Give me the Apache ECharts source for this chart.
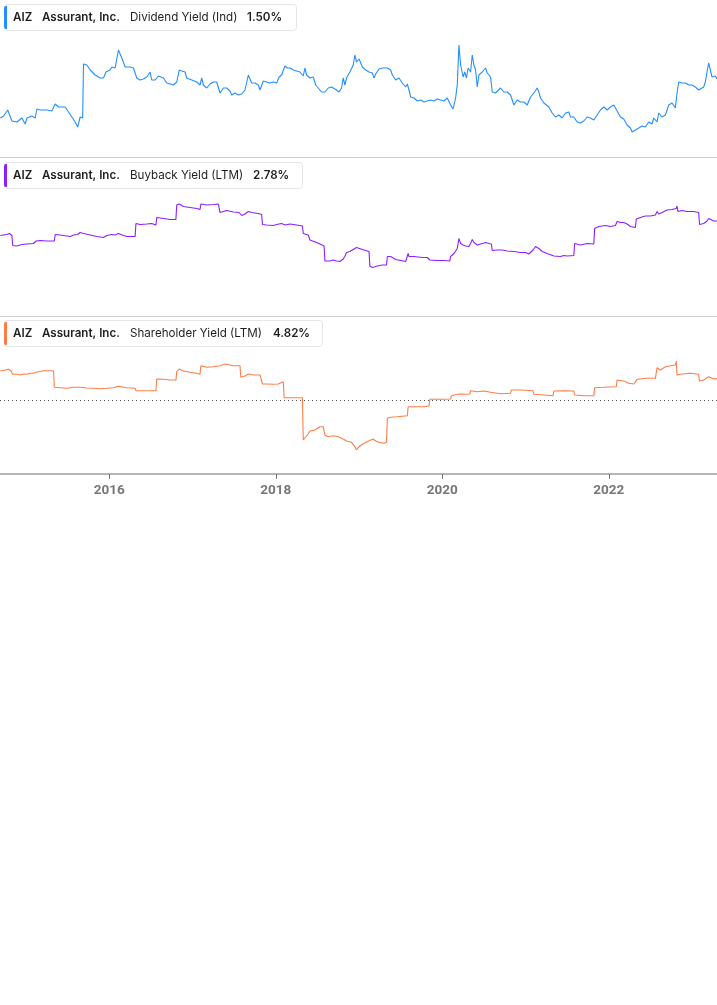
<!DOCTYPE html>
<html>
<head>
<meta charset="utf-8">
<script src="https://cdn.jsdelivr.net/npm/echarts@6/dist/echarts.min.js"></script>
<style>
html,body{margin:0;padding:0;background:#fff;}
#chart{width:717px;height:1005px;}
</style>
</head>
<body>
<div id="chart"></div>
<script>
// decimal year, value (%)
const dividendYield = [[2014.69,1.11],[2014.73,1.13],[2014.78,1.19],[2014.83,1.08],[2014.89,1.07],[2014.95,1.11],[2014.99,1.05],[2015.01,1.11],[2015.07,1.13],[2015.11,1.11],[2015.13,1.20],[2015.17,1.19],[2015.25,1.19],[2015.31,1.18],[2015.35,1.25],[2015.39,1.22],[2015.47,1.22],[2015.51,1.17],[2015.55,1.12],[2015.59,1.07],[2015.62,1.02],[2015.65,1.12],[2015.68,1.11],[2015.69,1.65],[2015.73,1.64],[2015.77,1.59],[2015.83,1.54],[2015.89,1.51],[2015.93,1.51],[2015.96,1.57],[2016.01,1.59],[2016.03,1.62],[2016.07,1.61],[2016.09,1.59],[2016.11,1.79],[2016.15,1.71],[2016.19,1.62],[2016.25,1.62],[2016.29,1.61],[2016.33,1.51],[2016.37,1.49],[2016.41,1.50],[2016.45,1.52],[2016.49,1.57],[2016.51,1.49],[2016.55,1.49],[2016.59,1.53],[2016.65,1.51],[2016.69,1.46],[2016.73,1.45],[2016.77,1.44],[2016.81,1.47],[2016.84,1.59],[2016.87,1.58],[2016.91,1.57],[2016.93,1.51],[2016.99,1.49],[2017.05,1.47],[2017.09,1.44],[2017.11,1.51],[2017.13,1.44],[2017.17,1.41],[2017.21,1.45],[2017.25,1.47],[2017.29,1.47],[2017.31,1.45],[2017.33,1.36],[2017.37,1.41],[2017.41,1.41],[2017.45,1.38],[2017.47,1.34],[2017.51,1.36],[2017.55,1.34],[2017.59,1.35],[2017.63,1.39],[2017.67,1.54],[2017.71,1.46],[2017.75,1.46],[2017.79,1.44],[2017.81,1.39],[2017.85,1.48],[2017.89,1.47],[2017.93,1.46],[2017.97,1.47],[2018.01,1.46],[2018.04,1.52],[2018.07,1.54],[2018.11,1.63],[2018.14,1.61],[2018.17,1.61],[2018.21,1.59],[2018.25,1.58],[2018.29,1.57],[2018.33,1.53],[2018.35,1.61],[2018.37,1.54],[2018.41,1.51],[2018.45,1.52],[2018.48,1.44],[2018.51,1.41],[2018.55,1.37],[2018.59,1.37],[2018.63,1.41],[2018.67,1.42],[2018.69,1.44],[2018.73,1.39],[2018.76,1.37],[2018.79,1.41],[2018.81,1.51],[2018.83,1.44],[2018.85,1.51],[2018.89,1.57],[2018.93,1.64],[2018.95,1.74],[2018.97,1.67],[2019.00,1.70],[2019.04,1.62],[2019.08,1.59],[2019.12,1.57],[2019.16,1.56],[2019.18,1.51],[2019.20,1.55],[2019.24,1.60],[2019.28,1.61],[2019.30,1.62],[2019.34,1.61],[2019.38,1.59],[2019.40,1.54],[2019.44,1.49],[2019.48,1.51],[2019.52,1.46],[2019.56,1.42],[2019.58,1.45],[2019.60,1.39],[2019.62,1.32],[2019.66,1.31],[2019.70,1.28],[2019.74,1.29],[2019.78,1.27],[2019.82,1.28],[2019.86,1.29],[2019.90,1.28],[2019.94,1.30],[2019.98,1.29],[2020.02,1.28],[2020.06,1.31],[2020.08,1.29],[2020.10,1.24],[2020.13,1.20],[2020.16,1.31],[2020.18,1.44],[2020.20,1.84],[2020.22,1.64],[2020.25,1.52],[2020.27,1.57],[2020.29,1.51],[2020.31,1.61],[2020.34,1.57],[2020.36,1.74],[2020.38,1.64],[2020.40,1.59],[2020.42,1.42],[2020.44,1.54],[2020.48,1.57],[2020.52,1.61],[2020.54,1.56],[2020.58,1.52],[2020.60,1.37],[2020.64,1.36],[2020.70,1.41],[2020.74,1.37],[2020.78,1.37],[2020.82,1.34],[2020.86,1.24],[2020.90,1.29],[2020.94,1.27],[2020.98,1.27],[2021.02,1.24],[2021.06,1.32],[2021.10,1.36],[2021.14,1.41],[2021.16,1.37],[2021.18,1.31],[2021.22,1.26],[2021.28,1.22],[2021.32,1.16],[2021.36,1.12],[2021.40,1.14],[2021.44,1.11],[2021.48,1.16],[2021.52,1.17],[2021.54,1.12],[2021.58,1.12],[2021.62,1.07],[2021.66,1.06],[2021.70,1.08],[2021.74,1.12],[2021.78,1.11],[2021.82,1.09],[2021.86,1.14],[2021.90,1.19],[2021.94,1.22],[2021.98,1.19],[2022.02,1.22],[2022.06,1.24],[2022.10,1.18],[2022.14,1.12],[2022.18,1.10],[2022.22,1.04],[2022.26,1.01],[2022.28,0.97],[2022.30,0.95],[2022.32,0.99],[2022.36,1.01],[2022.40,1.03],[2022.44,1.02],[2022.48,1.07],[2022.52,1.05],[2022.54,1.11],[2022.58,1.07],[2022.60,1.16],[2022.64,1.12],[2022.68,1.14],[2022.72,1.24],[2022.76,1.26],[2022.80,1.21],[2022.82,1.36],[2022.84,1.47],[2022.88,1.46],[2022.92,1.46],[2022.96,1.44],[2023.00,1.44],[2023.04,1.42],[2023.08,1.39],[2023.10,1.37],[2023.14,1.42],[2023.16,1.47],[2023.18,1.57],[2023.20,1.66],[2023.22,1.59],[2023.24,1.52],[2023.28,1.53],[2023.30,1.50]];

const buybackYield = [[2014.69,2.49],[2014.77,2.51],[2014.80,2.53],[2014.83,2.49],[2014.84,2.29],[2014.89,2.28],[2014.95,2.31],[2014.97,2.28],[2015.01,2.32],[2015.09,2.33],[2015.11,2.32],[2015.12,2.38],[2015.17,2.39],[2015.25,2.38],[2015.34,2.38],[2015.35,2.51],[2015.41,2.50],[2015.49,2.48],[2015.53,2.47],[2015.55,2.43],[2015.57,2.50],[2015.59,2.53],[2015.62,2.51],[2015.65,2.55],[2015.69,2.53],[2015.77,2.50],[2015.85,2.47],[2015.93,2.45],[2015.97,2.49],[2016.03,2.51],[2016.07,2.50],[2016.11,2.53],[2016.13,2.55],[2016.17,2.49],[2016.21,2.47],[2016.27,2.47],[2016.31,2.47],[2016.32,2.73],[2016.37,2.71],[2016.45,2.72],[2016.51,2.73],[2016.56,2.70],[2016.57,2.85],[2016.65,2.83],[2016.73,2.81],[2016.80,2.81],[2016.81,3.10],[2016.84,3.12],[2016.89,3.07],[2016.97,3.05],[2017.05,3.03],[2017.09,3.01],[2017.10,3.12],[2017.17,3.10],[2017.25,3.11],[2017.31,3.12],[2017.33,2.95],[2017.41,2.99],[2017.49,2.96],[2017.56,2.95],[2017.59,2.89],[2017.63,2.92],[2017.67,2.97],[2017.71,2.95],[2017.79,2.93],[2017.83,2.91],[2017.84,2.71],[2017.89,2.70],[2017.97,2.69],[2018.01,2.71],[2018.07,2.73],[2018.09,2.77],[2018.11,2.70],[2018.17,2.72],[2018.25,2.70],[2018.32,2.68],[2018.33,2.53],[2018.39,2.50],[2018.41,2.40],[2018.43,2.37],[2018.49,2.35],[2018.53,2.32],[2018.58,2.28],[2018.59,1.98],[2018.65,1.98],[2018.69,2.00],[2018.73,1.98],[2018.77,1.97],[2018.81,2.02],[2018.83,2.07],[2018.85,2.15],[2018.89,2.17],[2018.93,2.21],[2018.97,2.25],[2019.04,2.21],[2019.12,2.17],[2019.13,1.88],[2019.16,1.85],[2019.22,1.88],[2019.28,1.90],[2019.33,1.90],[2019.34,2.07],[2019.38,2.07],[2019.44,2.01],[2019.50,1.99],[2019.56,1.97],[2019.58,1.99],[2019.59,2.13],[2019.60,2.07],[2019.66,2.07],[2019.76,2.05],[2019.82,2.05],[2019.85,2.00],[2019.94,1.99],[2020.02,1.99],[2020.09,1.98],[2020.10,2.07],[2020.14,2.13],[2020.18,2.23],[2020.20,2.43],[2020.22,2.33],[2020.25,2.30],[2020.28,2.28],[2020.30,2.30],[2020.32,2.27],[2020.34,2.33],[2020.36,2.41],[2020.38,2.35],[2020.42,2.30],[2020.44,2.27],[2020.48,2.33],[2020.52,2.35],[2020.56,2.33],[2020.59,2.32],[2020.60,2.19],[2020.66,2.20],[2020.72,2.20],[2020.78,2.18],[2020.86,2.17],[2020.94,2.15],[2021.00,2.15],[2021.04,2.12],[2021.06,2.15],[2021.09,2.20],[2021.12,2.27],[2021.16,2.23],[2021.20,2.17],[2021.26,2.13],[2021.34,2.08],[2021.42,2.07],[2021.46,2.09],[2021.50,2.08],[2021.58,2.09],[2021.59,2.33],[2021.66,2.30],[2021.74,2.33],[2021.82,2.32],[2021.83,2.63],[2021.88,2.67],[2021.96,2.69],[2022.02,2.67],[2022.08,2.69],[2022.10,2.77],[2022.14,2.75],[2022.18,2.75],[2022.22,2.72],[2022.26,2.67],[2022.32,2.65],[2022.33,2.82],[2022.38,2.85],[2022.44,2.88],[2022.50,2.88],[2022.56,2.90],[2022.58,2.97],[2022.60,2.92],[2022.64,2.95],[2022.70,3.00],[2022.76,3.01],[2022.81,3.03],[2022.82,3.08],[2022.83,2.97],[2022.88,2.99],[2022.94,2.97],[2023.02,2.97],[2023.08,2.95],[2023.09,2.71],[2023.14,2.73],[2023.18,2.78],[2023.20,2.83],[2023.22,2.79],[2023.26,2.78],[2023.30,2.78]];

const shareholderYield = [[2014.69,6.38],[2014.75,6.60],[2014.79,6.75],[2014.82,6.38],[2014.84,5.65],[2014.89,5.65],[2014.93,5.50],[2014.97,5.72],[2015.01,5.65],[2015.05,5.87],[2015.09,5.87],[2015.12,6.09],[2015.14,6.45],[2015.21,6.45],[2015.29,6.45],[2015.33,6.38],[2015.34,2.79],[2015.41,2.71],[2015.49,2.57],[2015.57,2.79],[2015.65,2.79],[2015.73,2.64],[2015.81,2.57],[2015.89,2.49],[2015.97,2.57],[2016.05,2.71],[2016.11,3.01],[2016.13,2.79],[2016.21,2.71],[2016.31,2.57],[2016.32,2.05],[2016.41,2.05],[2016.49,2.05],[2016.56,2.05],[2016.57,4.62],[2016.65,4.55],[2016.73,4.40],[2016.80,4.40],[2016.81,6.23],[2016.84,6.82],[2016.89,6.38],[2016.97,6.09],[2017.05,5.87],[2017.09,5.65],[2017.10,7.55],[2017.17,7.19],[2017.25,7.33],[2017.33,7.55],[2017.39,7.92],[2017.45,7.70],[2017.49,7.55],[2017.57,7.55],[2017.58,4.99],[2017.63,5.28],[2017.67,5.72],[2017.73,5.50],[2017.81,5.50],[2017.83,5.35],[2017.84,3.52],[2017.89,3.52],[2017.97,3.45],[2018.03,3.52],[2018.09,4.03],[2018.10,0.51],[2018.17,0.51],[2018.25,0.51],[2018.32,0.51],[2018.33,-8.80],[2018.35,-8.65],[2018.38,-7.70],[2018.41,-6.82],[2018.47,-6.60],[2018.53,-5.87],[2018.57,-5.87],[2018.59,-7.70],[2018.63,-8.07],[2018.69,-7.85],[2018.75,-8.07],[2018.77,-7.85],[2018.81,-8.58],[2018.85,-9.02],[2018.91,-9.31],[2018.95,-10.27],[2018.97,-11.00],[2019.00,-10.27],[2019.04,-9.75],[2019.10,-9.17],[2019.14,-8.80],[2019.17,-8.58],[2019.20,-9.02],[2019.24,-9.31],[2019.30,-9.53],[2019.33,-9.31],[2019.34,-4.03],[2019.38,-3.81],[2019.46,-3.67],[2019.58,-3.45],[2019.59,-1.47],[2019.66,-1.47],[2019.78,-1.47],[2019.84,-1.32],[2019.85,0.15],[2019.94,0.15],[2020.02,0.15],[2020.10,0.22],[2020.11,0.88],[2020.18,1.25],[2020.22,1.32],[2020.28,1.25],[2020.33,1.32],[2020.34,2.05],[2020.42,1.83],[2020.50,1.98],[2020.58,1.69],[2020.60,1.47],[2020.70,1.39],[2020.82,1.47],[2020.83,2.20],[2020.94,2.20],[2021.09,2.05],[2021.10,1.25],[2021.22,1.10],[2021.33,0.95],[2021.34,1.98],[2021.46,2.00],[2021.58,1.98],[2021.59,1.10],[2021.70,0.95],[2021.82,0.95],[2021.83,2.71],[2021.94,2.79],[2022.09,2.93],[2022.10,4.40],[2022.18,4.18],[2022.24,3.67],[2022.30,3.52],[2022.34,4.55],[2022.46,4.77],[2022.56,4.77],[2022.58,7.11],[2022.62,6.60],[2022.68,7.33],[2022.74,7.55],[2022.80,7.70],[2022.81,8.58],[2022.82,5.50],[2022.88,5.72],[2022.98,5.87],[2023.08,5.65],[2023.09,4.18],[2023.14,4.40],[2023.20,5.13],[2023.22,4.77],[2023.26,4.62],[2023.30,4.70]];

const yearTicks = [2016, 2018, 2020, 2022];
const ticker = 'AIZ';
const company = 'Assurant, Inc.';
const metricNames = ['Dividend Yield (Ind)', 'Buyback Yield (LTM)', 'Shareholder Yield (LTM)'];
const metricValues = ['1.50%', '2.78%', '4.82%'];

const colors = ['#2290ff', '#8c1eff', '#ff7d45'];
const xMin = 2014.687, xMax = 2023.30;

const chart = echarts.init(document.getElementById('chart'), null, {renderer: 'canvas'});

const grids = [
  {left: 0, right: 0, top: 35, height: 122},
  {left: 0, right: 0, top: 190, height: 126},
  {left: 0, right: 0, top: 348, height: 126}
];
const yRanges = [[0.72, 1.94], [0.88, 3.40], [-16.28, 11.44]];

const xAxes = grids.map((g, i) => {
  const last = i === 2;
  return {
    type: 'value', gridIndex: i, min: xMin, max: xMax,
    splitLine: {show: false},
    axisLine: {show: true, onZero: false, lineStyle: {color: last ? '#b5b5b5' : '#cfcfcf', width: last ? 2 : 1}},
    axisTick: {show: last, customValues: yearTicks, length: 5, lineStyle: {color: '#777', width: 1}},
    axisLabel: {show: last, customValues: yearTicks, formatter: v => String(Math.round(v)),
      color: '#777', fontFamily: 'Roboto', fontWeight: 'bold', fontSize: 13.5, margin: 10}
  };
});
const yAxes = grids.map((g, i) => ({
  type: 'value', gridIndex: i, min: yRanges[i][0], max: yRanges[i][1], show: false,
  splitLine: {show: false}
}));

const seriesData = [dividendYield, buybackYield, shareholderYield];
const series = seriesData.map((d, i) => ({
  type: 'line', xAxisIndex: i, yAxisIndex: i, data: d, showSymbol: false, silent: true,
  lineStyle: {color: colors[i], width: 1.1}, animation: false,
  markLine: i === 2 ? {silent: true, symbol: 'none', label: {show: false},
    lineStyle: {color: '#555', type: [1, 3], width: 1}, data: [{yAxis: 0}]} : undefined
}));

const boxTops = [4.5, 162.5, 320.5];
const boxWidths = [292, 298, 318];
const valueX = [247, 253, 273];
const graphics = [];
boxTops.forEach((top, i) => {
  graphics.push({type: 'rect', shape: {x: 4.5, y: top, width: boxWidths[i], height: 26, r: 3},
    style: {fill: '#fff', stroke: '#e6e6e6', lineWidth: 1}, z: 10});
  graphics.push({type: 'rect', shape: {x: 4, y: top + 1.5, width: 3, height: 23, r: [2, 0, 0, 2]},
    style: {fill: colors[i]}, z: 11});
  const cy = top + 13;
  const pieces = [
    [13, ticker, 600], [42, company, 600], [130, metricNames[i], 400], [valueX[i], metricValues[i], 600]
  ];
  pieces.forEach(p => {
    graphics.push({type: 'text', x: p[0], y: cy, z: 12,
      style: {text: p[1], fill: '#1f1f1f', font: p[2] + ' 11.6px Inter', textVerticalAlign: 'middle', textAlign: 'left'}});
  });
});

chart.setOption({
  animation: false,
  backgroundColor: '#fff',
  grid: grids,
  xAxis: xAxes,
  yAxis: yAxes,
  series: series,
  graphic: graphics
});
</script>
</body>
</html>
